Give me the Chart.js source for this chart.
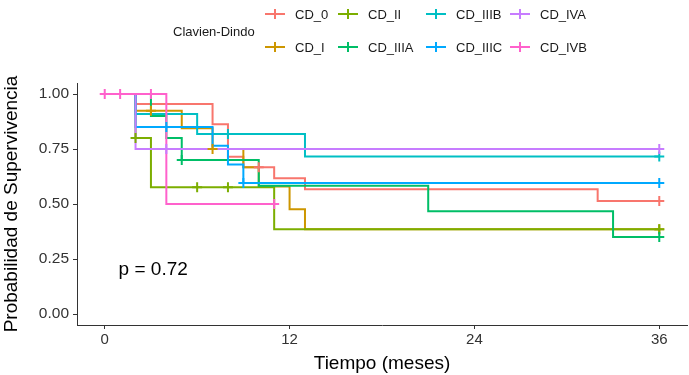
<!DOCTYPE html>
<html lang="es">
<head>
  <meta charset="UTF-8" />
  <title>Curvas de supervivencia Clavien-Dindo</title>
  <script src="https://cdn.jsdelivr.net/npm/chart.js"></script>
  <style>
    html, body { margin: 0; padding: 0; background: #fff; overflow: hidden; }
    #wrap { width: 689px; height: 375px; position: relative; }
  </style>
</head>
<body>
  <div id="wrap"><canvas id="kmChart" width="689" height="375"></canvas></div>

  <script>
    // groups and colours (ggplot hue palette)
    const groups = ["CD_0", "CD_I", "CD_II", "CD_IIIA", "CD_IIIB", "CD_IIIC", "CD_IVA", "CD_IVB"];
    const colors = ["#F8766D", "#CD9600", "#7CAE00", "#00BE67", "#00BFC4", "#00A9FF", "#C77CFF", "#FF61CC"];

    // step curves: time of each change (months) and survival from then on
    const timeCD0 = [0, 2, 7, 8, 9, 11, 13, 32, 36];
    const survCD0 = [1, 0.955, 0.862, 0.715, 0.667, 0.617, 0.567, 0.514, 0.514];
    const timeCDI = [0, 2, 5, 7, 9, 10, 12, 13, 36];
    const survCDI = [1, 0.924, 0.844, 0.75, 0.667, 0.579, 0.476, 0.385, 0.385];
    const timeCDII = [0, 2, 3, 11, 36];
    const survCDII = [1, 0.8, 0.576, 0.385, 0.385];
    const timeCDIIIA = [0, 3, 4, 5, 10, 21, 33, 36];
    const survCDIIIA = [1, 0.9, 0.8, 0.7, 0.583, 0.467, 0.35, 0.35];
    const timeCDIIIB = [0, 2, 6, 13, 36];
    const survCDIIIB = [1, 0.909, 0.818, 0.716, 0.716];
    const timeCDIIIC = [0, 2, 7, 8, 9, 36];
    const survCDIIIC = [1, 0.85, 0.765, 0.68, 0.595, 0.595];
    const timeCDIVA = [0, 2, 36];
    const survCDIVA = [1, 0.75, 0.75];
    const timeCDIVB = [0, 4, 11];
    const survCDIVB = [1, 0.5, 0.5];

    // censored observations
    const censTimeCD0 = [10, 36];
    const censSurvCD0 = [0.667, 0.514];
    const censTimeCDI = [3, 7, 36];
    const censSurvCDI = [0.924, 0.75, 0.385];
    const censTimeCDII = [2, 6, 8, 36];
    const censSurvCDII = [0.8, 0.576, 0.576, 0.385];
    const censTimeCDIIIA = [5, 36];
    const censSurvCDIIIA = [0.7, 0.35];
    const censTimeCDIIIB = [8, 36];
    const censSurvCDIIIB = [0.818, 0.716];
    const censTimeCDIIIC = [4, 9, 36];
    const censSurvCDIIIC = [0.85, 0.595, 0.595];
    const censTimeCDIVA = [4, 36];
    const censSurvCDIVA = [0.75, 0.75];
    const censTimeCDIVB = [0, 1, 3, 11];
    const censSurvCDIVB = [1, 1, 1, 0.5];

    const xTicks = [0, 12, 24, 36];
    const yTicks = [0, 0.25, 0.5, 0.75, 1];
    const pValue = "p = 0.72";

    const steps = [
      [timeCD0, survCD0], [timeCDI, survCDI], [timeCDII, survCDII], [timeCDIIIA, survCDIIIA],
      [timeCDIIIB, survCDIIIB], [timeCDIIIC, survCDIIIC], [timeCDIVA, survCDIVA], [timeCDIVB, survCDIVB]
    ];
    const censors = [
      [censTimeCD0, censSurvCD0], [censTimeCDI, censSurvCDI], [censTimeCDII, censSurvCDII], [censTimeCDIIIA, censSurvCDIIIA],
      [censTimeCDIIIB, censSurvCDIIIB], [censTimeCDIIIC, censSurvCDIIIC], [censTimeCDIVA, censSurvCDIVA], [censTimeCDIVB, censSurvCDIVB]
    ];

    const toPoints = (xs, ys) => xs.map((x, i) => ({ x: x, y: ys[i] }));

    const datasets = [];
    groups.forEach((g, i) => {
      datasets.push({
        label: g,
        data: toPoints(steps[i][0], steps[i][1]),
        showLine: true,
        stepped: "before",   // hold the previous value, then drop at the new time
        borderColor: colors[i],
        borderWidth: 2,
        pointRadius: 0,
        order: 17 - i
      });
    });
    groups.forEach((g, i) => {
      datasets.push({
        label: g + " censor",
        data: toPoints(censors[i][0], censors[i][1]),
        showLine: false,
        pointStyle: "cross",
        pointRadius: 5,
        pointBorderWidth: 2,
        borderColor: colors[i],
        backgroundColor: colors[i],
        order: 7 - i
      });
    });

    const FONT = '"Liberation Sans", Arial, sans-serif';

    // legend at the top + p value inside the panel
    const extras = {
      id: "extras",
      afterDraw(chart) {
        const c = chart.ctx;
        c.save();
        c.fillStyle = "#1a1a1a";
        c.font = "13px " + FONT;
        c.textBaseline = "middle";
        c.textAlign = "left";
        c.fillText("Clavien-Dindo", 173, 32);

        const colX = [275, 348, 436, 520];
        const rowY = [14, 47];
        groups.forEach((g, i) => {
          const col = Math.floor(i / 2);
          const row = i % 2;
          const cx = colX[col], cy = rowY[row];
          c.strokeStyle = colors[i];
          c.lineWidth = 2;
          c.beginPath();
          c.moveTo(cx - 10, cy); c.lineTo(cx + 10, cy);
          c.moveTo(cx, cy - 5); c.lineTo(cx, cy + 5);
          c.stroke();
          c.fillStyle = "#1a1a1a";
          c.fillText(g, cx + 20, cy + 1);
        });

        const xs = chart.scales.x, ys = chart.scales.y;
        c.fillStyle = "#000";
        c.font = "19px " + FONT;
        c.fillText(pValue, xs.getPixelForValue(0.9), ys.getPixelForValue(0.2));
        c.restore();
      }
    };

    const axisGrid = { display: true, drawOnChartArea: false, drawTicks: true, tickLength: 4, color: "#333" };

    new Chart(document.getElementById("kmChart"), {
      type: "scatter",
      data: { datasets: datasets },
      options: {
        responsive: false,
        animation: false,
        events: [],
        layout: { autoPadding: false, padding: { top: 83, right: 2, left: 0, bottom: 0 } },
        plugins: { legend: { display: false }, tooltip: { enabled: false } },
        scales: {
          x: {
            type: "linear",
            min: -1.8,
            max: 37.8,
            afterBuildTicks: s => { s.ticks = xTicks.map(v => ({ value: v })); },
            afterFit: s => { s.height = 50; s.paddingLeft = 0; s.paddingRight = 0; },
            grid: axisGrid,
            border: { display: true, color: "#333", width: 1 },
            ticks: { color: "#333", font: { size: 15, family: FONT }, padding: 2 },
            title: { display: true, text: "Tiempo (meses)", color: "#000", font: { size: 19, family: FONT }, padding: 0 }
          },
          y: {
            min: -0.05,
            max: 1.05,
            afterBuildTicks: s => { s.ticks = yTicks.map(v => ({ value: v })); },
            afterFit: s => { s.width = 77; s.paddingTop = 0; s.paddingBottom = 0; },
            grid: axisGrid,
            border: { display: true, color: "#333", width: 1 },
            ticks: { color: "#333", font: { size: 15.5, family: FONT }, padding: 4, callback: v => v.toFixed(2) },
            title: { display: true, text: "Probabilidad de Supervivencia", color: "#000", font: { size: 19, family: FONT }, padding: 0 }
          }
        }
      },
      plugins: [extras]
    });
  </script>
</body>
</html>
